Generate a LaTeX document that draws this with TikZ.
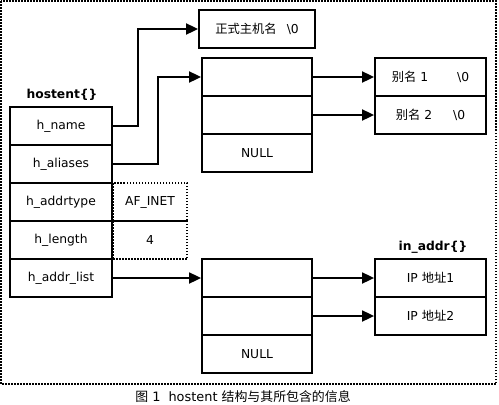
\documentclass[tikz,border=0pt]{standalone}
\usepackage{fontspec}
\setmainfont{DejaVu Sans}
\newfontfamily\cjk{Noto Sans CJK SC}
\usetikzlibrary{arrows.meta}
\begin{document}
\begin{tikzpicture}[x=1pt,y=-1pt,
  every node/.style={font=\fontsize{12.3}{15}\selectfont, inner sep=0pt},
  cell/.style={draw, line width=1.8pt, minimum width=102pt, minimum height=38pt},
  arr/.style={draw, minimum width=110pt, minimum height=38pt, line width=1.8pt},
  strbox/.style={draw, minimum width=111pt, minimum height=38pt, line width=1.8pt},
  dotbox/.style={draw, line width=1.5pt, dash pattern=on 1.5pt off 1.5pt, minimum width=74pt, minimum height=38pt},
  link/.style={line width=1.8pt, -{Triangle[length=12pt,width=11pt]}},
  lbl/.style={font=\fontsize{12.3}{15}\selectfont\bfseries}
]
\useasboundingbox (0,0) rectangle (499,405);
\draw[line width=1.5pt, dash pattern=on 1.5pt off 1.5pt] (1,1) rectangle (496,384);

% hostent
\node[lbl] (hl) at (62,95) {hostent\{\}};
\node[cell] (hname) at (61,126) {h\_name};
\node[cell] (halias) at (61,164) {h\_aliases};
\node[cell] (htype) at (61,202) {h\_addrtype};
\node[cell] (hlen) at (61,240) {h\_length};
\node[cell] (hlist) at (61,278) {h\_addr\_list};
\node[dotbox] (vtype) at (150,202) {AF\_INET};
\node[dotbox] (vlen) at (150,240) {4};

% official name
\node[draw, line width=1.8pt, minimum width=116pt, minimum height=38pt] (formal) at (257,29) {{\cjk 正式主机名}\hspace{10pt}\textbackslash0};

% alias array
\node[arr] (a1) at (257,77) {};
\node[arr] (a2) at (257,115) {};
\node[arr] (a3) at (257,153) {NULL};
\node[strbox] (s1) at (430.5,77) {{\cjk 别名}~1\hspace{29pt}\textbackslash0};
\node[strbox] (s2) at (430.5,115) {{\cjk 别名}~2\hspace{21pt}\textbackslash0};

% addr list
\node[lbl] (il) at (433,247) {in\_addr\{\}};
\node[arr] (b1) at (257,278) {};
\node[arr] (b2) at (257,316) {};
\node[arr] (b3) at (257,354) {NULL};
\node[strbox] (ip1) at (430.5,278) {IP {\cjk 地址}1};
\node[strbox] (ip2) at (430.5,316) {IP {\cjk 地址}2};

% connectors
\draw[link] (hname.east) -- ++(25,0) |- (formal.west);
\draw[link] (halias.east) -- ++(45,0) |- (a1.west);
\draw[link] (a1.east) -- (s1.west);
\draw[link] (a2.east) -- (s2.west);
\draw[link] (hlist.east) -- (b1.west);
\draw[link] (b1.east) -- (ip1.west);
\draw[link] (b2.east) -- (ip2.west);

\node[font=\fontsize{12.9}{15}\selectfont] (cap) at (243,397) {{\cjk 图}~1\hspace{8pt}hostent~{\cjk 结构与其所包含的信息}};
\end{tikzpicture}
\end{document}
